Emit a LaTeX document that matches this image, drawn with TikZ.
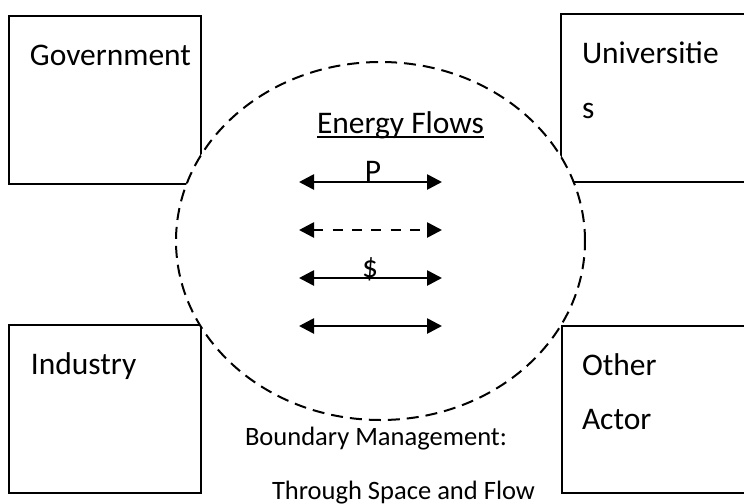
\documentclass[tikz,border=0pt]{standalone}
\usepackage{fontspec}
\setmainfont{Carlito}
\usetikzlibrary{arrows.meta,shapes.geometric}

\begin{document}
\begin{tikzpicture}[x=0.75pt, y=-0.75pt,
  actorbox/.style={draw=black, line width=1.2pt, fill=white, rectangle,
    inner sep=0pt, outer sep=0pt},
  bigtext/.style={anchor=base west, inner sep=0pt, outer sep=0pt,
    font=\fontsize{23.6pt}{28pt}\selectfont},
  smalltext/.style={anchor=base west, inner sep=0pt, outer sep=0pt,
    font=\fontsize{19.9pt}{24pt}\selectfont},
  flowline/.style={line width=2pt,
    {Triangle[length=11.25pt, width=11.25pt]}-{Triangle[length=11.25pt, width=11.25pt]}},
  boundaryline/.style={draw=black, fill=white, line width=1.5pt,
    dash pattern=on 9pt off 5.25pt}]

  \useasboundingbox (0,0) rectangle (744,504);
  \clip (0,0) rectangle (744,504);

  % the four actors
  \node (gov) [actorbox, minimum width=144pt, minimum height=126pt] at (105,100) {};
  \node (uni) [actorbox, minimum width=149.25pt, minimum height=126pt] at (660.5,98) {};
  \node (ind) [actorbox, minimum width=144pt, minimum height=126pt] at (105,409) {};
  \node (oth) [actorbox, minimum width=148.5pt, minimum height=125.25pt] at (661,409.5) {};

  % boundary of the energy flows, laid over the box corners
  \node (boundary) [ellipse, boundaryline, inner sep=0pt,
    minimum width=306.75pt, minimum height=268.5pt] at (380.5,241) {};

  % actor labels
  \node (govlbl) [bigtext] at (30,65) {Government};
  \node (unilbl) [bigtext] at (582,63) {Universitie};
  \node (unilbl2) [bigtext] at (582,118) {s};
  \node (indlbl) [bigtext] at (31,374) {Industry};
  \node (othlbl) [bigtext] at (582,375) {Other};
  \node (othlbl2) [bigtext] at (582,429) {Actor};

  % heading
  \node (flows) [bigtext] at (317,133) {Energy Flows};
  \draw[line width=1.5pt] ([yshift=-3pt]flows.base west) -- ([yshift=-3pt]flows.base east);

  % flow arrows
  \coordinate (a1l) at (299,182); \coordinate (a1r) at (442,182);
  \coordinate (a2l) at (299,230); \coordinate (a2r) at (442,230);
  \coordinate (a3l) at (299,278); \coordinate (a3r) at (442,278);
  \coordinate (a4l) at (299,326); \coordinate (a4r) at (442,326);
  \draw[flowline] (a1l) -- (a1r);
  \draw[flowline, dash pattern=on 7.5pt off 7pt] (a2l) -- (a2r);
  \draw[flowline] (a3l) -- (a3r);
  \draw[flowline] (a4l) -- (a4r);

  \node (plbl) [anchor=base, inner sep=0pt, font=\fontsize{23.6pt}{28pt}\selectfont] at (373,181) {P};
  \node (dlbl) [anchor=base, inner sep=0pt, font=\fontsize{23.6pt}{28pt}\selectfont] at (370,277) {\$};

  % caption below the boundary
  \node (bm1) [smalltext] at (245,445) {Boundary Management:};
  \node (bm2) [smalltext] at (272,499) {Through Space and Flow};
\end{tikzpicture}
\end{document}
